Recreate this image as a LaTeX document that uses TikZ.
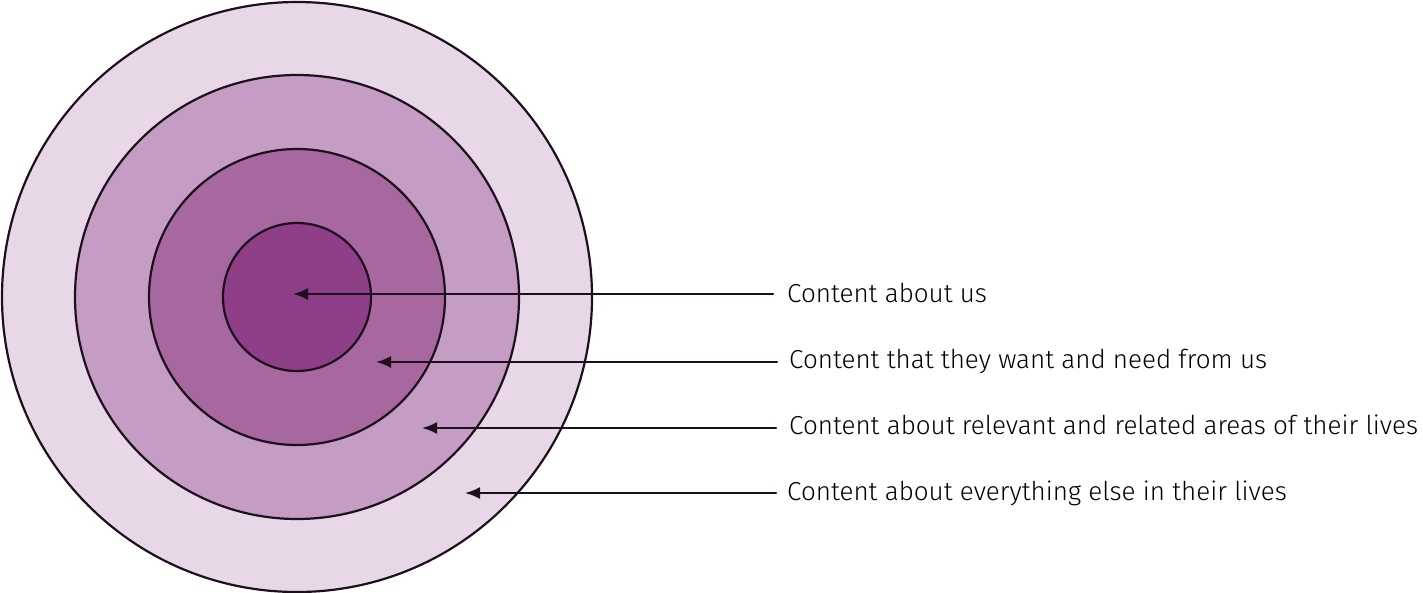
\documentclass[tikz,border=0pt]{standalone}
\usepackage{fontspec}
\setmainfont{Fira Sans Light}
\usetikzlibrary{arrows.meta}
\usetikzlibrary{positioning}
\definecolor{ringA}{HTML}{E8D8E7}
\definecolor{ringB}{HTML}{C59CC4}
\definecolor{ringC}{HTML}{A6689F}
\definecolor{ringD}{HTML}{8E3F88}
\definecolor{inkline}{HTML}{1E0F1D}

\begin{document}
\begin{tikzpicture}[x=1pt,y=-1pt,line cap=round]
\tikzset{ring/.style={draw=inkline,circle,line width=2.2pt,inner sep=0pt}}
\tikzset{lbl/.style={anchor=base west,inner sep=0pt,text=black,font=\fontsize{26}{30}\selectfont}}
\tikzset{ptr/.style={draw=inkline,line width=2.2pt,-{Latex[length=15pt,width=12pt]}}}
\useasboundingbox (0,0) rectangle (1423,592);

\node[ring,fill=ringA,minimum size=590pt] (outer) at (297,297) {};
\node[ring,fill=ringB,minimum size=444pt] (second) at (297,297) {};
\node[ring,fill=ringC,minimum size=296pt] (third) at (297,297) {};
\node[ring,fill=ringD,minimum size=148pt] (inner) at (297,297) {};

\coordinate (t1) at (293,294);
\coordinate (t2) at (376,362);
\coordinate (t3) at (422,428);
\coordinate (t4) at (465,493);

\node[lbl] (l1) at (787,302) {Content about us};
\node[lbl] (l2) at (789,368) {Content that they want and need from us};
\node[lbl] (l3) at (789,434) {Content about relevant and related areas of their lives};
\node[lbl] (l4) at (787,500) {Content about everything else in their lives};

\draw[ptr] ([xshift=-14pt]l1.west |- t1) -- (t1);
\draw[ptr] ([xshift=-12pt]l2.west |- t2) -- (t2);
\draw[ptr] ([xshift=-13pt]l3.west |- t3) -- (t3);
\draw[ptr] ([xshift=-11pt]l4.west |- t4) -- (t4);
\end{tikzpicture}
\end{document}
